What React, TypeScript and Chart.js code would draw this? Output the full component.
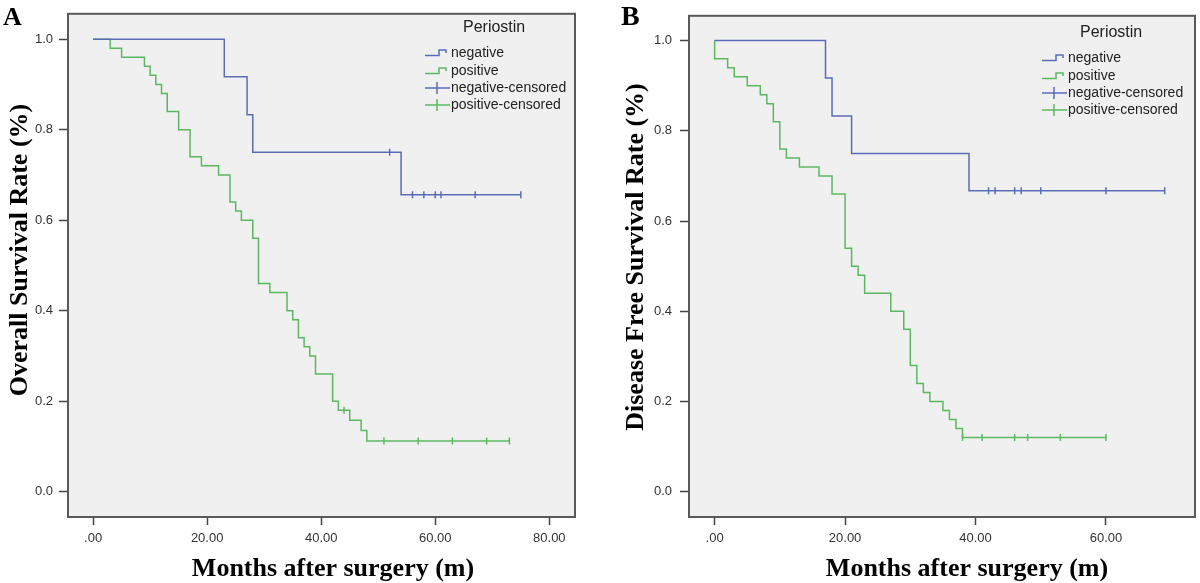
import React, { useEffect, useRef } from "react";
import { Chart, registerables } from "chart.js";

Chart.register(...registerables);

// ---------- Panel A: Overall survival ----------
const aNegTimes = [0, 23, 27, 28, 54, 75];
const aNegSurv = [1.0, 0.917, 0.833, 0.75, 0.656, 0.656];
const aNegCensorTimes = [52, 56, 58, 60, 61, 67, 75];
const aNegCensorSurv = [0.75, 0.656, 0.656, 0.656, 0.656, 0.656, 0.656];

const aPosTimes = [0, 3, 5, 9, 10, 11, 12, 13, 15, 17, 19, 22, 24, 25, 26, 28, 29, 31, 34, 35, 36, 37, 38, 39, 42, 43, 45, 47, 48, 73];
const aPosSurv = [1.0, 0.98, 0.96, 0.94, 0.92, 0.9, 0.88, 0.84, 0.8, 0.74, 0.72, 0.7, 0.64, 0.62, 0.6, 0.56, 0.46, 0.44, 0.4, 0.38, 0.34, 0.32, 0.3, 0.26, 0.2, 0.18, 0.158, 0.135, 0.112, 0.112];
const aPosCensorTimes = [44, 51, 57, 63, 69, 73];
const aPosCensorSurv = [0.18, 0.112, 0.112, 0.112, 0.112, 0.112];

// ---------- Panel B: Disease free survival ----------
const bNegTimes = [0, 17, 18, 21, 39, 69];
const bNegSurv = [1.0, 0.917, 0.833, 0.75, 0.667, 0.667];
const bNegCensorTimes = [42, 43, 46, 47, 50, 60, 69];
const bNegCensorSurv = [0.667, 0.667, 0.667, 0.667, 0.667, 0.667, 0.667];

const bPosTimes = [0, 0, 2, 3, 5, 7, 8, 9, 10, 11, 13, 16, 18, 20, 21, 22, 23, 27, 29, 30, 31, 32, 33, 35, 36, 37, 38, 60];
const bPosSurv = [1.0, 0.96, 0.94, 0.92, 0.9, 0.88, 0.86, 0.82, 0.76, 0.74, 0.72, 0.7, 0.66, 0.54, 0.5, 0.48, 0.44, 0.4, 0.36, 0.28, 0.24, 0.22, 0.2, 0.18, 0.16, 0.14, 0.12, 0.12];
const bPosCensorTimes = [38, 41, 46, 48, 53, 60];
const bPosCensorSurv = [0.12, 0.12, 0.12, 0.12, 0.12, 0.12];

// ---------- Axis ticks and labels ----------
const aXTicks = [0, 20, 40, 60, 80];
const bXTicks = [0, 20, 40, 60];
const yTicks = [0, 0.2, 0.4, 0.6, 0.8, 1.0];
const legendTitle = "Periostin";
const legendLabels = ["negative", "positive", "negative-censored", "positive-censored"];
const xTitle = "Months after surgery (m)";
const aYTitle = "Overall Survival Rate (%)";
const bYTitle = "Disease Free Survival Rate (%)";

const BLUE = "#5a6cb8";
const GREEN = "#5cb860";
const SERIF = "'Liberation Serif', 'Times New Roman', serif";
const SANS = "'Liberation Sans', Arial, sans-serif";

const pts = (t: number[], s: number[]) => t.map((x, i) => ({ x, y: s[i] }));
const fmtX = (v: number) => (v === 0 ? ".00" : v.toFixed(2));

type Panel = {
  letter: string;
  letterX: number;
  letterSize: number;
  yTitle: string;
  yTitleX: number;
  yTitleY: number;
  xTitleX: number;
  xMin: number;
  xMax: number;
  yMin: number;
  yMax: number;
  xTicks: number[];
  yAxisWidth: number;
  yLabelPad: number;
  pad: { left: number; right: number; top: number; bottom: number };
  legendX: number;
  legendTitleX: number;
  legendTitleY: number;
  negT: number[]; negS: number[]; negCT: number[]; negCS: number[];
  posT: number[]; posS: number[]; posCT: number[]; posCS: number[];
};

const panels: Panel[] = [
  {
    letter: "A", letterX: 3, letterSize: 26,
    yTitle: aYTitle, yTitleX: 27, yTitleY: 250, xTitleX: 333,
    xMin: -4.4, xMax: 84.5, yMin: -0.056, yMax: 1.056,
    xTicks: aXTicks, yAxisWidth: 68, yLabelPad: 6,
    pad: { left: 0, right: 25, top: 6, bottom: 0 },
    legendX: 425, legendTitleX: 463, legendTitleY: 28,
    negT: aNegTimes, negS: aNegSurv, negCT: aNegCensorTimes, negCS: aNegCensorSurv,
    posT: aPosTimes, posS: aPosSurv, posCT: aPosCensorTimes, posCS: aPosCensorSurv,
  },
  {
    letter: "B", letterX: 21, letterSize: 28,
    yTitle: bYTitle, yTitleX: 43, yTitleY: 257, xTitleX: 367,
    xMin: -3.93, xMax: 73.65, yMin: -0.056, yMax: 1.055,
    xTicks: bXTicks, yAxisWidth: 89, yLabelPad: 8,
    pad: { left: 0, right: 3, top: 3, bottom: 0 },
    legendX: 442, legendTitleX: 480, legendTitleY: 33,
    negT: bNegTimes, negS: bNegSurv, negCT: bNegCensorTimes, negCS: bNegCensorSurv,
    posT: bPosTimes, posS: bPosSurv, posCT: bPosCensorTimes, posCS: bPosCensorSurv,
  },
];

function decorPlugin(p: Panel) {
  return {
    id: "decor",
    beforeDraw(chart: any) {
      const { ctx, chartArea: a } = chart;
      ctx.save();
      ctx.fillStyle = "#f0f0f0";
      ctx.fillRect(a.left, a.top, a.right - a.left, a.bottom - a.top);
      ctx.restore();
    },
    afterDraw(chart: any) {
      const { ctx, chartArea: a } = chart;
      ctx.save();
      // frame
      ctx.strokeStyle = "#595959";
      ctx.lineWidth = 2;
      ctx.strokeRect(a.left, a.top, a.right - a.left, a.bottom - a.top);

      // panel letter
      ctx.fillStyle = "#000";
      ctx.font = `bold ${p.letterSize}px ${SERIF}`;
      ctx.textAlign = "left";
      ctx.textBaseline = "alphabetic";
      ctx.fillText(p.letter, p.letterX, 25);

      // x title
      ctx.font = `bold 26px ${SERIF}`;
      ctx.textAlign = "center";
      ctx.fillText(xTitle, p.xTitleX, 576);

      // y title
      ctx.save();
      ctx.translate(p.yTitleX, p.yTitleY);
      ctx.rotate(-Math.PI / 2);
      ctx.fillText(p.yTitle, 0, 0);
      ctx.restore();

      // legend
      ctx.fillStyle = "#222";
      ctx.font = `16px ${SANS}`;
      ctx.textAlign = "left";
      ctx.textBaseline = "middle";
      ctx.fillText(legendTitle, p.legendTitleX, p.legendTitleY);
      ctx.font = `14px ${SANS}`;
      const offs = [25, 43, 60, 77];
      const colors = [BLUE, GREEN, BLUE, GREEN];
      legendLabels.forEach((lab, i) => {
        const y = p.legendTitleY + offs[i];
        const x0 = p.legendX;
        ctx.strokeStyle = colors[i];
        ctx.lineWidth = 1.5;
        ctx.beginPath();
        if (i < 2) {
          ctx.moveTo(x0, y + 2.5);
          ctx.lineTo(x0 + 14, y + 2.5);
          ctx.lineTo(x0 + 14, y - 3);
          ctx.lineTo(x0 + 21, y - 3);
          ctx.lineTo(x0 + 21, y);
        } else {
          ctx.moveTo(x0, y);
          ctx.lineTo(x0 + 25, y);
          ctx.moveTo(x0 + 12, y - 6);
          ctx.lineTo(x0 + 12, y + 6);
        }
        ctx.stroke();
        ctx.fillStyle = "#222";
        ctx.fillText(lab, x0 + 26, y);
      });
      ctx.restore();
    },
  };
}

function makeConfig(p: Panel): any {
  const lineDs = (t: number[], s: number[], color: string) => ({
    data: pts(t, s),
    borderColor: color,
    borderWidth: 1.5,
    pointRadius: 0,
    stepped: "before",
    fill: false,
    tension: 0,
  });
  const censorDs = (t: number[], s: number[], color: string) => ({
    data: pts(t, s),
    borderColor: color,
    backgroundColor: color,
    borderWidth: 1.5,
    showLine: false,
    pointStyle: "line",
    rotation: 90,
    pointRadius: 3.5,
    pointHoverRadius: 3.5,
  });
  return {
    type: "line",
    data: {
      datasets: [
        lineDs(p.negT, p.negS, BLUE),
        lineDs(p.posT, p.posS, GREEN),
        censorDs(p.negCT, p.negCS, BLUE),
        censorDs(p.posCT, p.posCS, GREEN),
      ],
    },
    options: {
      animation: false,
      responsive: false,
      maintainAspectRatio: false,
      events: [],
      layout: { padding: p.pad },
      plugins: { legend: { display: false }, tooltip: { enabled: false }, title: { display: false } },
      scales: {
        x: {
          type: "linear",
          min: p.xMin,
          max: p.xMax,
          afterBuildTicks: (s: any) => { s.ticks = p.xTicks.map((v) => ({ value: v })); },
          afterFit: (s: any) => { s.height = 66; },
          grid: { display: true, drawOnChartArea: false, drawTicks: true, tickLength: 8, tickColor: "#444", tickWidth: 1.5 },
          border: { display: false },
          ticks: {
            autoSkip: false, maxRotation: 0, padding: 6, color: "#333",
            font: { family: SANS, size: 13 },
            callback: (v: any) => fmtX(Number(v)),
          },
        },
        y: {
          type: "linear",
          min: p.yMin,
          max: p.yMax,
          afterBuildTicks: (s: any) => { s.ticks = yTicks.map((v) => ({ value: v })); },
          afterFit: (s: any) => { s.width = p.yAxisWidth; },
          grid: { display: true, drawOnChartArea: false, drawTicks: true, tickLength: 9, tickColor: "#444", tickWidth: 1.5 },
          border: { display: false },
          ticks: {
            autoSkip: false, padding: p.yLabelPad, color: "#333",
            font: { family: SANS, size: 13 },
            callback: (v: any) => Number(v).toFixed(1),
          },
        },
      },
    },
    plugins: [decorPlugin(p)],
  };
}

function PanelChart({ p, left }: { p: Panel; left: number }) {
  const ref = useRef<HTMLCanvasElement | null>(null);
  useEffect(() => {
    if (!ref.current) return;
    const chart = new Chart(ref.current, makeConfig(p));
    return () => chart.destroy();
  }, [p]);
  return (
    <canvas
      ref={ref}
      width={600}
      height={583}
      style={{ position: "absolute", left, top: 0, width: 600, height: 583, display: "block" }}
    />
  );
}

export default function App() {
  return (
    <div style={{ position: "absolute", left: 0, top: 0, width: 1200, height: 583, background: "#fff", overflow: "hidden" }}>
      <PanelChart p={panels[0]} left={0} />
      <PanelChart p={panels[1]} left={600} />
    </div>
  );
}
